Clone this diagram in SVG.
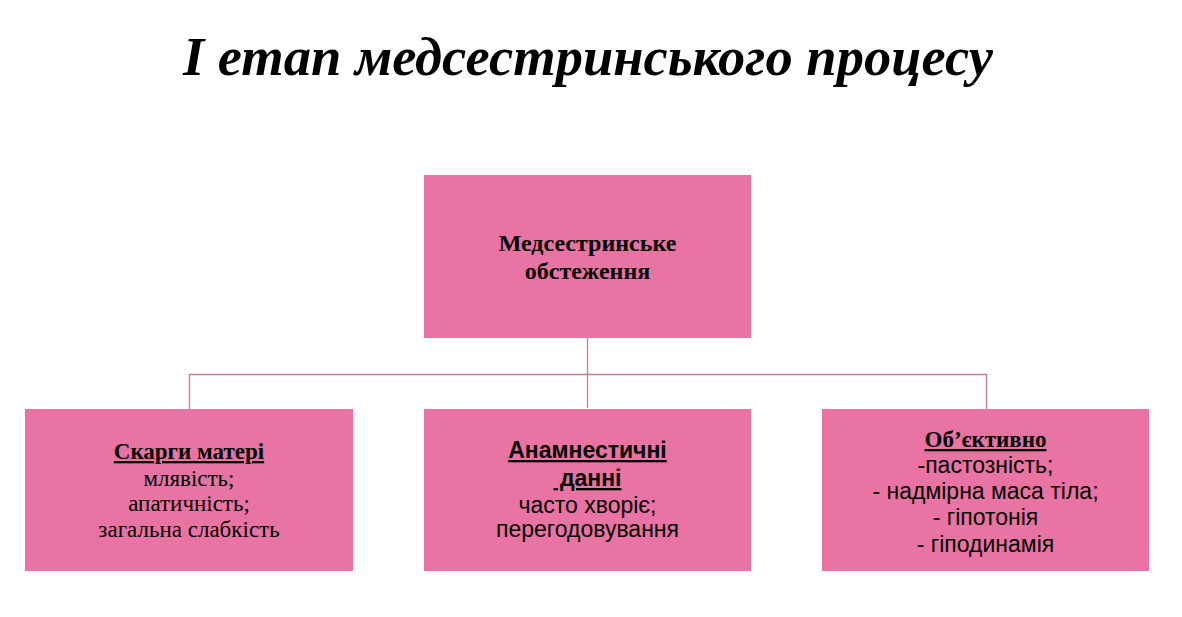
<svg xmlns="http://www.w3.org/2000/svg" width="1182" height="617" viewBox="0 0 1182 617">
<style>
.box{fill:#E973A2;}
.serif{font-family:"Liberation Serif","Times New Roman",serif;fill:#000;}
.sans{font-family:"Liberation Sans",Arial,sans-serif;fill:#000;}
.t{font-size:23px;text-anchor:middle;}
.h{font-size:24px;}
.b{font-weight:bold;}
.u{text-decoration:underline;}
.conn{stroke:#C77D9E;stroke-width:1.3;fill:none;}
</style>
<rect width="1182" height="617" fill="#fff"/>
<text class="serif" x="588" y="75" font-size="54.5" font-weight="bold" font-style="italic" text-anchor="middle">І етап медсестринського процесу</text>
<g id="connectors">
<path class="conn" d="M587.5 338 V408 M189.5 409 V374.5 H986.5 V409"/>
</g>
<g id="root">
<rect class="box" x="424" y="175" width="327" height="163"/>
<text class="serif t h b" x="587.5" y="251">Медсестринське</text>
<text class="serif t h b" x="587.5" y="279">обстеження</text>
</g>
<g id="complaints">
<rect class="box" x="25" y="409" width="328" height="162"/>
<text class="serif t b u" x="189" y="459">Скарги матері</text>
<text class="serif t" x="189" y="486">млявість;</text>
<text class="serif t" x="189" y="511">апатичність;</text>
<text class="serif t" x="189" y="537">загальна слабкість</text>
</g>
<g id="anamnesis">
<rect class="box" x="424" y="409" width="327" height="162"/>
<text class="sans t b u" x="587.5" y="458">Анамнестичні</text>
<text class="sans t b u" x="587.5" y="486" xml:space="preserve"> данні</text>
<text class="sans t" x="587.5" y="513">часто хворіє;</text>
<text class="sans t" x="587.5" y="537">перегодовування</text>
</g>
<g id="objective">
<rect class="box" x="822" y="409" width="327" height="162"/>
<text class="serif t b u" x="985.5" y="447">Об’єктивно</text>
<text class="sans t" x="985.5" y="473">-пастозність;</text>
<text class="sans t" x="985.5" y="499">- надмірна маса тіла;</text>
<text class="sans t" x="985.5" y="525">- гіпотонія</text>
<text class="sans t" x="985.5" y="552">- гіподинамія</text>
</g>
</svg>
